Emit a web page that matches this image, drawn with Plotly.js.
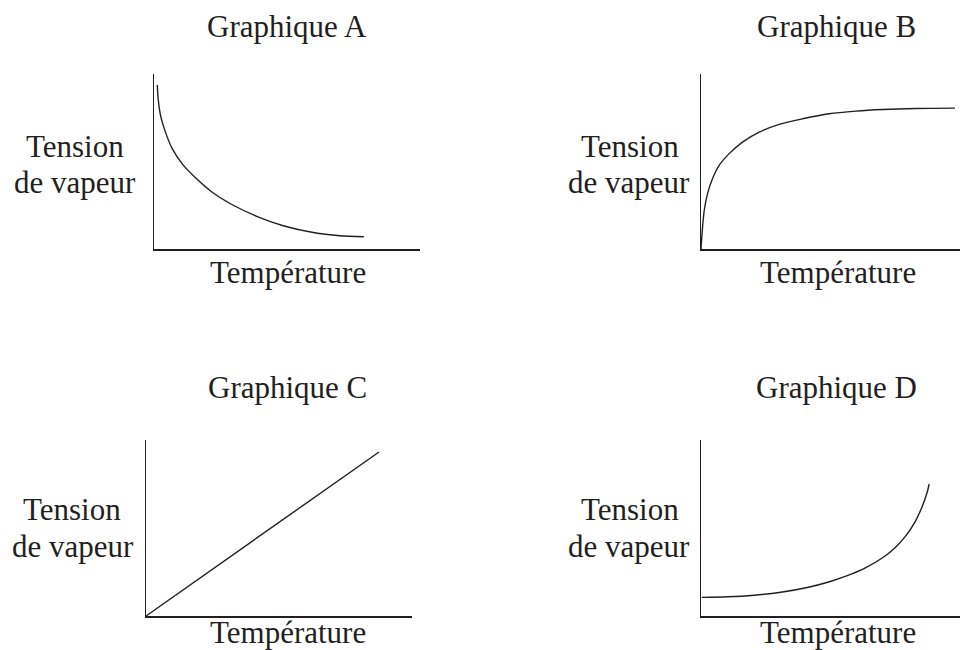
<!DOCTYPE html>
<html>
<head>
<meta charset="utf-8">
<script src="https://cdn.plot.ly/plotly-3.0.1.min.js"></script>
<style>html,body{margin:0;padding:0;background:#fff;}#chart{width:960px;height:650px;}</style>
</head>
<body>
<div id="chart"></div>
<script>
// ---- Data (arbitrary units, 0-100 scale on each axis) ----
const panelTitles = ['Graphique A', 'Graphique B', 'Graphique C', 'Graphique D'];
const yLabelLines = ['Tension', 'de vapeur'];
const xLabel = 'Température';

const aTemp = [1.24, 1.62, 2.5, 4.14, 6.8, 10.7, 16.1, 22.3, 29.8, 38.6, 48.6, 59.9, 69.9, 78.9];
const aPress = [93.7, 85.0, 76.0, 67.5, 57.5, 48.5, 40.0, 32.0, 25.0, 18.7, 13.3, 9.4, 7.6, 7.0];

const bTemp = [0, 0.6, 1.24, 2.48, 4.36, 6.88, 10.6, 15.6, 21.9, 29.4, 38.2, 48.2, 58.3, 68.3, 80.8, 95.5];
const bPress = [0, 12.8, 22.3, 31.8, 40.3, 47.9, 54.5, 61.1, 66.8, 71.2, 74.4, 77.3, 78.8, 79.7, 80.3, 80.5];

const cTemp = [0, 87.6];
const cPress = [0, 93.2];

const dTemp = [0.3, 10, 20, 30, 40, 48, 55, 62, 68, 73, 77, 80.5, 83, 85, 85.8];
const dPress = [10.6, 10.9, 11.8, 13.5, 16.2, 19.3, 22.9, 27.5, 32.8, 38.8, 45.5, 53.5, 61.5, 70.0, 75.0];

// ---- Layout geometry (pixels) ----
const W = 960, H = 650;
const ink = '#231f20';
const fontFam = '"Liberation Serif", "Times New Roman", serif';
const fs = 31;

const panels = [
  {x: aTemp, y: aPress, left: 154, right: 420, top: 74, bottom: 249, xmax: 100,
   title: [287, 26.5], yl: [[75, 146.5], [75, 182.5]], xl: [288, 272.5]},
  {x: bTemp, y: bPress, left: 701, right: 960, top: 74, bottom: 249, xmax: 97.4,
   title: [836, 26.5], yl: [[630, 146.5], [629, 182.5]], xl: [838, 272.5]},
  {x: cTemp, y: cPress, left: 146, right: 412, top: 440, bottom: 616, xmax: 100,
   title: [287, 387.5], yl: [[72, 509.5], [72.5, 546.5]], xl: [288, 632]},
  {x: dTemp, y: dPress, left: 701, right: 960, top: 440, bottom: 616, xmax: 97.4,
   title: [836, 387.5], yl: [[629.5, 509.5], [629, 546.5]], xl: [837.5, 632]}
];

const traces = [];
const layout = {
  width: W, height: H,
  margin: {l: 0, r: 0, t: 0, b: 0, pad: 0},
  paper_bgcolor: '#fff', plot_bgcolor: '#fff',
  showlegend: false,
  annotations: []
};

function ann(text, px, py) {
  return {text: text, xref: 'paper', yref: 'paper', x: px / W, y: 1 - py / H,
          xanchor: 'center', yanchor: 'middle', showarrow: false,
          font: {family: fontFam, size: fs, color: ink}};
}

panels.forEach((p, i) => {
  const n = i === 0 ? '' : String(i + 1);
  traces.push({
    x: p.x, y: p.y, type: 'scatter', mode: 'lines',
    xaxis: 'x' + n, yaxis: 'y' + n,
    line: {color: ink, width: 1.4, shape: 'spline', smoothing: 0.8},
    hoverinfo: 'skip'
  });
  const axBase = {showgrid: false, zeroline: false, showticklabels: false, ticks: '',
                  showline: true, linecolor: ink, linewidth: 1.5, mirror: false, fixedrange: true};
  layout['xaxis' + n] = Object.assign({}, axBase, {
    domain: [p.left / W, Math.min(1, p.right / W)], range: [0, p.xmax], anchor: 'y' + n});
  layout['yaxis' + n] = Object.assign({}, axBase, {
    domain: [1 - p.bottom / H, 1 - p.top / H], range: [0, 100], anchor: 'x' + n});
  layout.annotations.push(ann(panelTitles[i], p.title[0], p.title[1]));
  layout.annotations.push(ann(yLabelLines[0], p.yl[0][0], p.yl[0][1]));
  layout.annotations.push(ann(yLabelLines[1], p.yl[1][0], p.yl[1][1]));
  layout.annotations.push(ann(xLabel, p.xl[0], p.xl[1]));
});

Plotly.newPlot('chart', traces, layout, {displayModeBar: false, staticPlot: true});
</script>
</body>
</html>
